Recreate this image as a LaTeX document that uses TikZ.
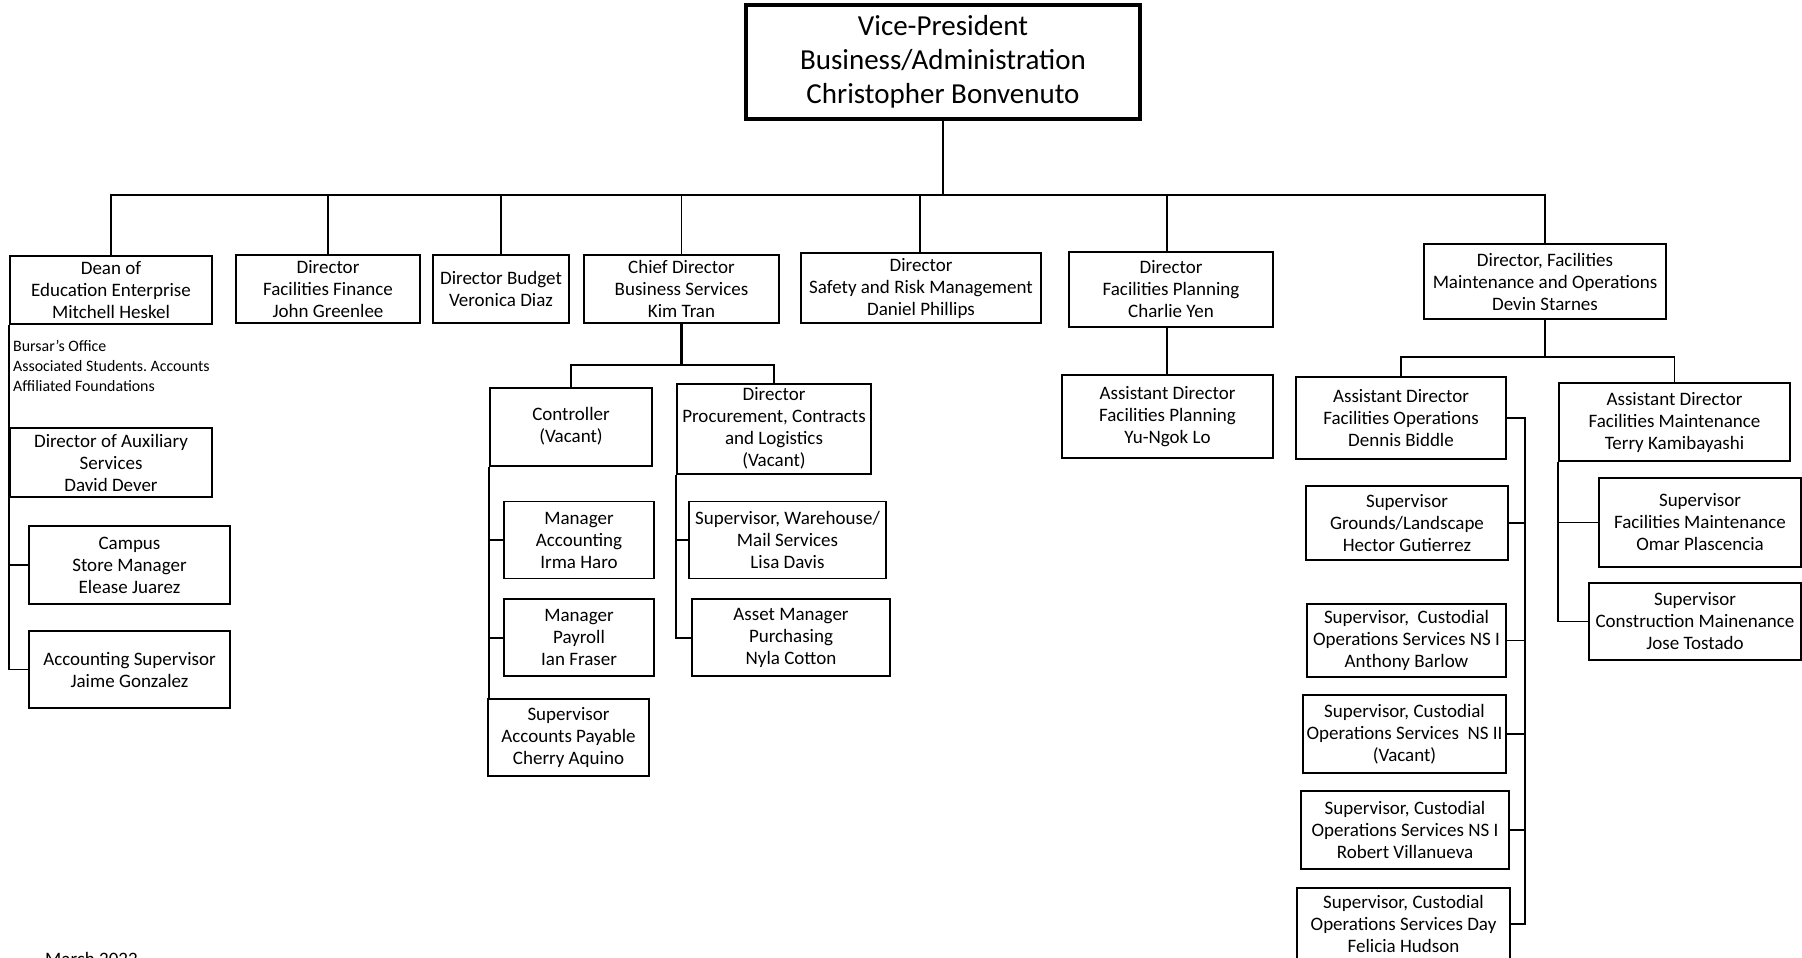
\documentclass[tikz,border=0pt]{standalone}
\usepackage{fontspec}
\setmainfont{Carlito}
\frenchspacing

\begin{document}
\begin{tikzpicture}[
    x=1pt, y=-1pt,
    box/.style={rectangle, draw=black, line width=1.9pt, fill=white, inner sep=0pt, align=center, font=\fontsize{19}{22}\selectfont},
    topbox/.style={box, line width=3.2pt, font=\fontsize{29}{34}\selectfont},
    note/.style={inner sep=0pt, align=left, anchor=north west, font=\fontsize{15.9}{20}\selectfont},
    link/.style={line width=1.9pt, black},
    stem/.style={line width=2.7pt, black}
]
\useasboundingbox (0,0) rectangle (1802,958);

% Top: Vice-President
\node[topbox, minimum width=394pt, minimum height=114pt] (vp) at (943,62) {Vice-President\\Business/Administration\\Christopher Bonvenuto};

% Row 1: Directors
\node[box, minimum width=202pt, minimum height=68pt] (dean) at (111,290) {Dean of\\Education Enterprise\\Mitchell Heskel};
\node[box, minimum width=184pt, minimum height=68pt] (finance) at (328,289) {Director\\Facilities Finance\\John Greenlee};
\node[box, minimum width=136pt, minimum height=68pt] (budget) at (501,289) {Director Budget\\Veronica Diaz};
\node[box, minimum width=195pt, minimum height=68pt] (chief) at (681.5,289) {Chief Director\\Business Services\\Kim Tran};
\node[box, minimum width=240pt, minimum height=70pt] (safety) at (921,288) {Director\\Safety and Risk Management\\Daniel Phillips};
\node[box, minimum width=204pt, minimum height=75pt] (planning) at (1171,289.5) {Director\\Facilities Planning\\Charlie Yen};
\node[box, minimum width=242pt, minimum height=75pt] (facmo) at (1545,281.5) {Director, Facilities\\Maintenance and Operations\\Devin Starnes};

% Dean of Education Enterprise
\node[note] (bursar) at (13,340) {Bursar's Office\\Associated Students. Accounts\\Affiliated Foundations};
\node[box, minimum width=202pt, minimum height=69pt] (aux) at (111,462.5) {Director of Auxiliary\\Services\\David Dever};
\node[box, minimum width=201pt, minimum height=78pt] (store) at (129.5,565) {Campus\\Store Manager\\Elease Juarez};
\node[box, minimum width=201pt, minimum height=77pt] (acctsup) at (129.5,669.5) {Accounting Supervisor\\Jaime Gonzalez};

% Chief Director Business Services
\node[box, minimum width=162pt, minimum height=78pt] (controller) at (571,426.6) {Controller\\(Vacant)};
\node[box, minimum width=194pt, minimum height=90pt] (procure) at (774,428.7) {Director\\Procurement, Contracts\\and Logistics\\(Vacant)};
\node[box, minimum width=150pt, minimum height=77pt] (mgracct) at (579,540) {Manager\\Accounting\\Irma Haro};
\node[box, minimum width=150pt, minimum height=77pt] (payroll) at (579,637.7) {Manager\\Payroll\\Ian Fraser};
\node[box, minimum width=161pt, minimum height=77pt] (payable) at (568.5,737.4) {Supervisor\\Accounts Payable\\Cherry Aquino};
\node[box, minimum width=197pt, minimum height=77pt] (warehouse) at (787.5,540) {Supervisor, Warehouse/\\Mail Services\\Lisa Davis};
\node[box, minimum width=198pt, minimum height=77pt] (asset) at (791,637.7) {Asset Manager\\Purchasing\\Nyla Cotton};

% Facilities Planning
\node[box, minimum width=211pt, minimum height=83pt] (asstplan) at (1167.5,416.5) {Assistant Director\\Facilities Planning\\Yu-Ngok Lo};

% Facilities Maintenance and Operations
\node[box, minimum width=210pt, minimum height=82pt] (asstops) at (1401,418) {Assistant Director\\Facilities Operations\\Dennis Biddle};
\node[box, minimum width=231pt, minimum height=78pt] (asstmaint) at (1674.5,422) {Assistant Director\\Facilities Maintenance\\Terry Kamibayashi};
\node[box, minimum width=202pt, minimum height=74pt] (grounds) at (1407,523) {Supervisor\\Grounds/Landscape\\Hector Gutierrez};
\node[box, minimum width=199pt, minimum height=73pt] (barlow) at (1406.5,640.5) {Supervisor,\ \ Custodial\\Operations Services NS I\\Anthony Barlow};
\node[box, minimum width=203pt, minimum height=78pt] (nsii) at (1404.5,734) {Supervisor, Custodial\\Operations Services\ \ NS II\\(Vacant)};
\node[box, minimum width=208pt, minimum height=78pt] (villa) at (1405,830) {Supervisor, Custodial\\Operations Services NS I\\Robert Villanueva};
\node[box, minimum width=213pt, minimum height=72pt] (hudson) at (1403.5,924) {Supervisor, Custodial\\Operations Services Day\\Felicia Hudson};
\node[box, minimum width=202pt, minimum height=89pt] (facmaint) at (1700,522.5) {Supervisor\\Facilities Maintenance\\Omar Plascencia};
\node[box, minimum width=212pt, minimum height=77pt] (constr) at (1695,621.5) {Supervisor\\Construction Mainenance\\Jose Tostado};

\node[anchor=north west, inner sep=0pt, font=\fontsize{19}{22}\selectfont] (date) at (45,952) {March 2022};

% Lines - top level
\coordinate (bus) at (943,195);
\draw[stem] (vp.south) -- (bus);
\draw[link] (bus) -| (dean.north);
\draw[link] (bus) -| (finance.north);
\draw[link] (bus) -| (budget.north);
\draw[link] (bus) -| (chief.north);
\draw[link] (bus) -| ([xshift=-1pt]safety.north);
\draw[link] (bus) -| ([xshift=-4pt]planning.north);
\draw[link] (bus) -| (facmo.north);

% Lines - dean
\draw[link] (dean.south west) |- (acctsup.west);
\draw[link] (dean.south west |- store.west) -- (store.west);

% Lines - chief director
\coordinate (chiefbus) at (681.5,365);
\draw[stem] (chief.south) -- (chiefbus);
\draw[link] (chiefbus) -| (controller.north);
\draw[link] (chiefbus) -| (procure.north);
\draw[link] (controller.south west) -- (controller.south west |- payable.north);
\draw[link] (controller.south west |- mgracct.west) -- (mgracct.west);
\draw[link] (controller.south west |- payroll.west) -- (payroll.west);
\draw[link] (procure.south west) |- (asset.west);
\draw[link] (procure.south west |- warehouse.west) -- (warehouse.west);

% Lines - facilities planning
\draw[stem] ([xshift=-4pt]planning.south) -- ([xshift=-4pt]planning.south |- asstplan.north);

% Lines - maintenance and operations
\coordinate (mobus) at (1545,357);
\draw[stem] (facmo.south) -- (mobus);
\draw[link] (mobus) -| (asstops.north);
\draw[link] (mobus) -| (asstmaint.north);
\coordinate (opsline) at (1525,418);
\draw[link] (asstops.east) -- (opsline) |- (hudson.east);
\draw[link] (grounds.east) -- (grounds.east -| opsline);
\draw[link] (barlow.east) -- (barlow.east -| opsline);
\draw[link] (nsii.east) -- (nsii.east -| opsline);
\draw[link] (villa.east) -- (villa.east -| opsline);
\draw[link] (asstmaint.south west) |- (constr.west);
\draw[link] (asstmaint.south west |- facmaint.west) -- (facmaint.west);

\end{tikzpicture}
\end{document}
